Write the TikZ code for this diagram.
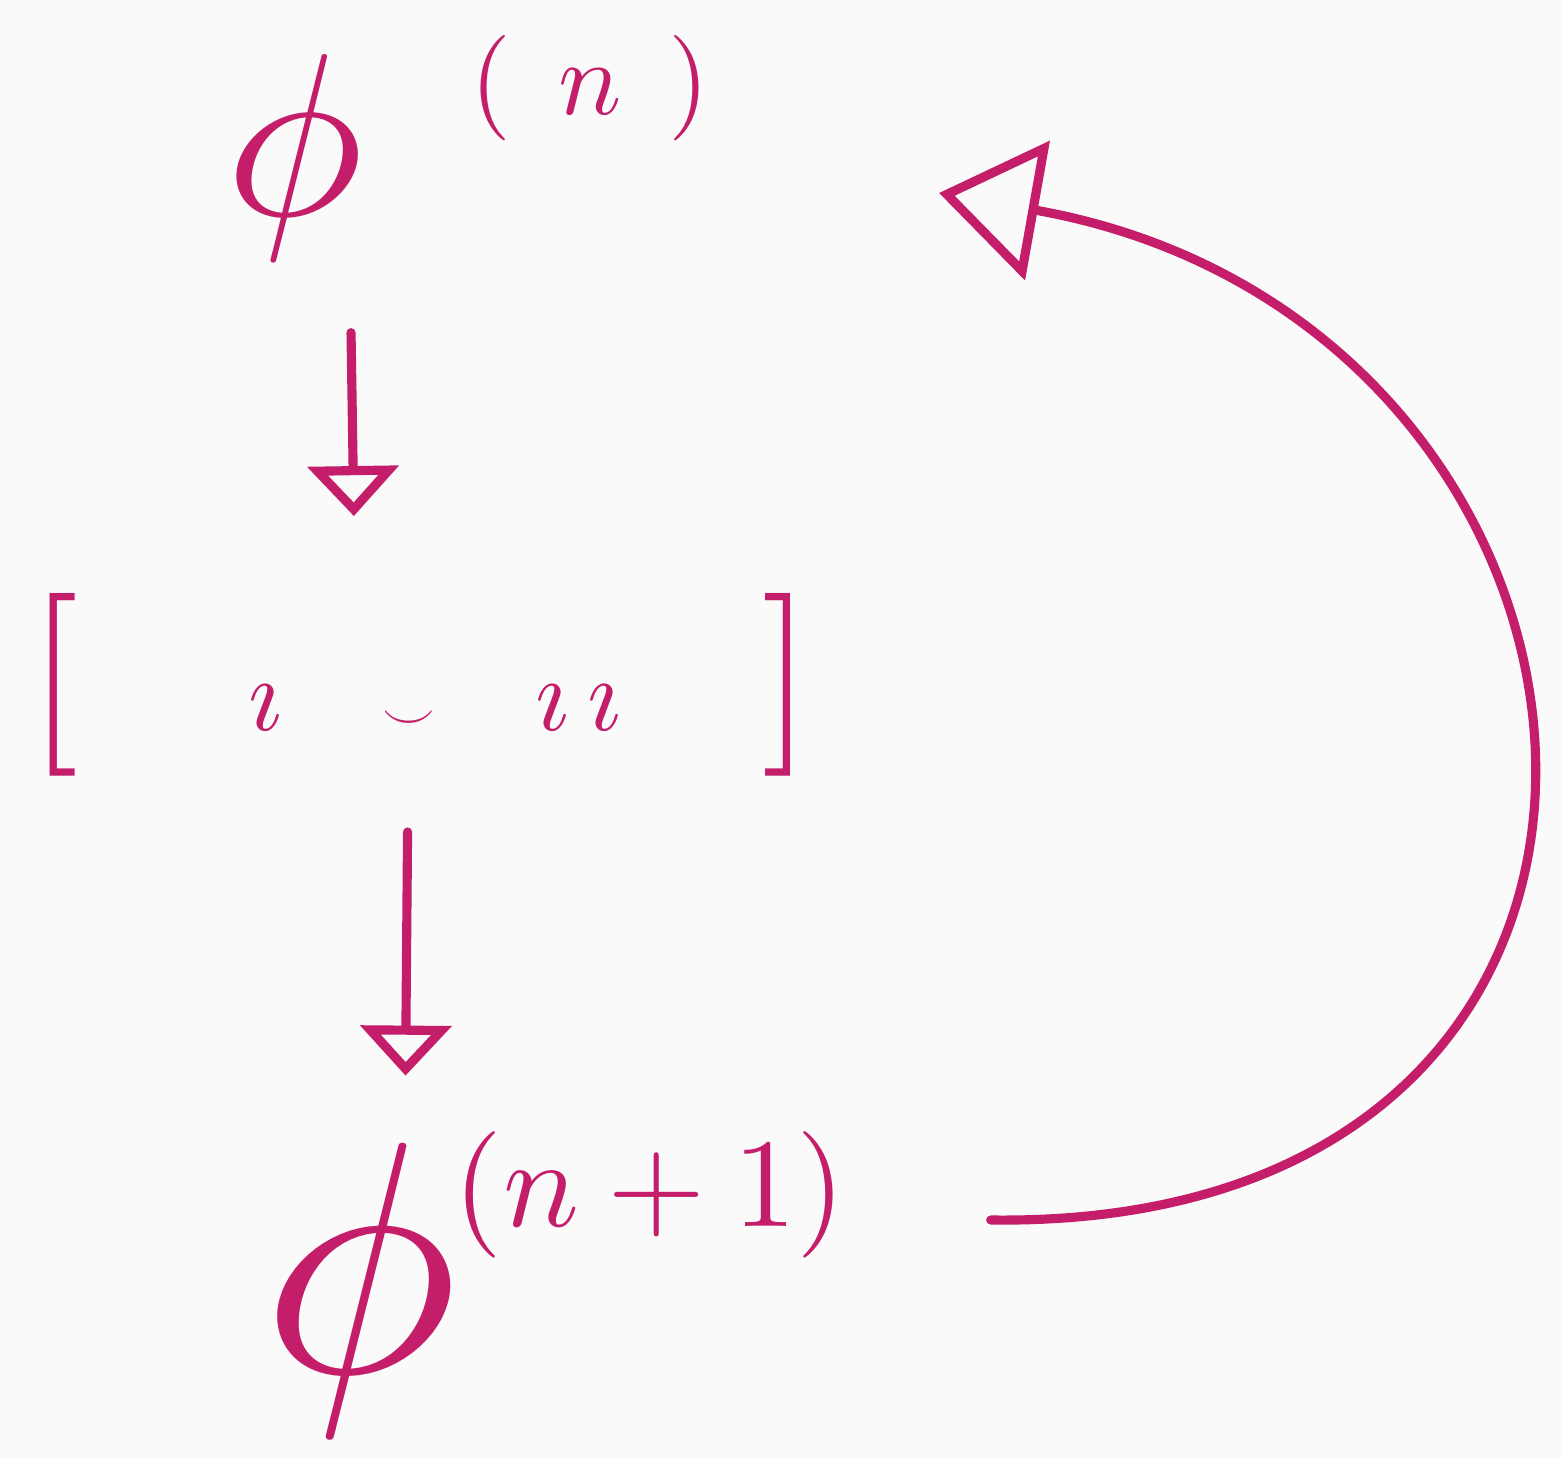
\documentclass[tikz,border=0pt]{standalone}
\usepackage{amsmath}
\usepackage{amssymb}
\usepackage{xcolor}
\usepackage{tikz}
\usetikzlibrary{arrows.meta, positioning}
\definecolor{ink}{RGB}{196,30,106}
\definecolor{paper}{RGB}{250,250,250}
\def\penW{2.6pt}
% hand-sized glyphs: 10pt math blown up
\newcommand{\inkglyph}[2]{\scalebox{#1}{#2}}

\begin{document}
\begin{tikzpicture}[
    line width=\penW, line cap=round, line join=round,
    draw=ink,
    >={Triangle[open,length=5mm,width=9mm]},
    every node/.style={inner sep=0pt, text=ink},
    bigtip/.style={-{Triangle[open,length=10mm,width=14mm]}}
]
\fill[paper] (0,0) rectangle (15.63,-14.58);
\useasboundingbox (0,0) rectangle (15.63,-14.58);

% iterate phi^(n)
\node (phin) at (2.95,-1.58) {\inkglyph{6.6}{$\phi$}};
\node (phinsup) at (5.9,-0.88) {\inkglyph{3}{$(\;\,n\;\,)$}};

% the bracket step
\node (brk) at (4.2,-6.85) {\inkglyph{5.2}{[}\hspace{17mm}\inkglyph{3}{$\imath$}\hspace{10mm}\inkglyph{1.5}{$\smile$}\hspace{10mm}\inkglyph{3}{$\imath\,\imath$}\hspace{14mm}\inkglyph{5.2}{]}};

% iterate phi^(n+1)
\node (phinn) at (3.6,-12.9) {\inkglyph{9.4}{$\phi$}};
\node (phinnsup) at (6.5,-11.95) {\inkglyph{3.6}{$(n+1)$}};

\draw[->, shorten <=6.7mm, shorten >=7.3mm] ([xshift=5.5mm]phin.south) -- ([xshift=-6.5mm]brk.north);
\draw[->, shorten <=5.1mm, shorten >=6.3mm] ([xshift=-1.2mm]brk.south) -- ([xshift=4.5mm]phinn.north);

% loop back
\draw[bigtip] ([xshift=14mm,yshift=-2.5mm]phinnsup.east)
    .. controls +(7.6,-0.1) and +(7.3,-1.3) .. ([xshift=22.5mm,yshift=-10.5mm]phinsup.east);
\end{tikzpicture}
\end{document}
